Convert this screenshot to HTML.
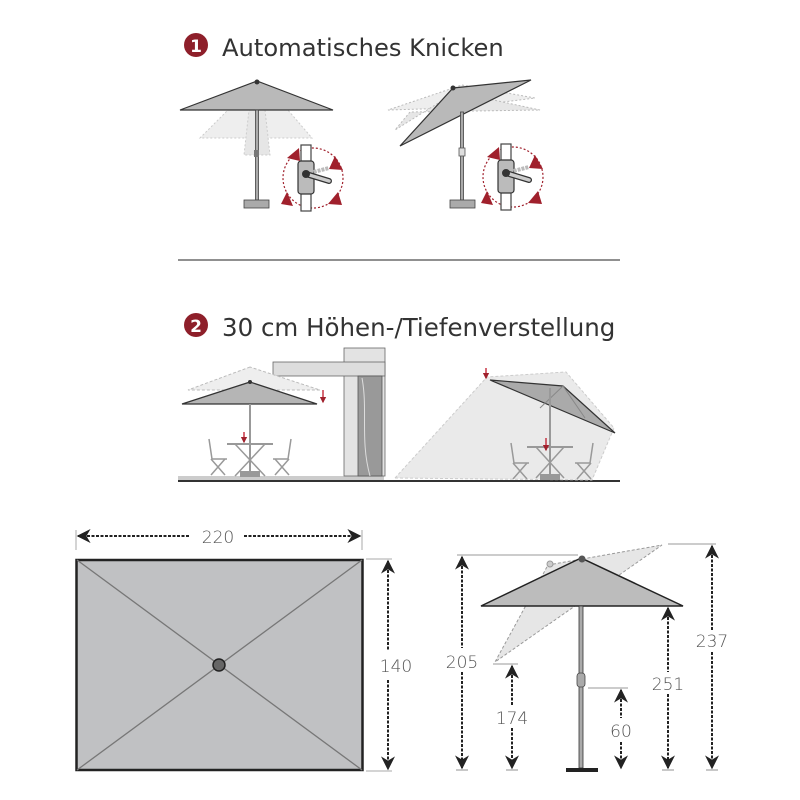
<!DOCTYPE html>
<html><head><meta charset="utf-8"><style>
html,body{margin:0;padding:0;background:#fff}
svg{display:block}
text{font-family:"DejaVu Sans","Liberation Sans",sans-serif;fill:#444}
.d{font-size:17px;fill:#555;font-weight:300}
</style></head><body>
<svg width="800" height="800" viewBox="0 0 800 800" xmlns="http://www.w3.org/2000/svg">
<defs>
<marker id="ar" viewBox="0 0 10 10" refX="9" refY="5" markerWidth="7" markerHeight="7" orient="auto-start-reverse"><path d="M0,0 L10,5 L0,10 L3,5 z" fill="#222"/></marker>
<marker id="rr" viewBox="0 0 10 10" refX="8" refY="5" markerWidth="5" markerHeight="5" orient="auto"><path d="M0,0 L10,5 L0,10 z" fill="#a0202c"/></marker>
<g id="dial">
<circle cx="0" cy="0" r="30" fill="none" stroke="#a0202c" stroke-width="1.2" stroke-dasharray="2,2"/>
<rect x="-12" y="-33" width="10" height="66" fill="#fff" stroke="#444" stroke-width="1.2"/>
<rect x="-15" y="-17" width="16" height="33" rx="3" fill="#bbb" stroke="#333" stroke-width="1.2"/>
<line x1="-7" y1="-4" x2="16" y2="-10" stroke="#bbb" stroke-width="4" stroke-dasharray="3,1"/>
<line x1="-7" y1="-4" x2="16" y2="3" stroke="#333" stroke-width="6" stroke-linecap="round"/>
<line x1="-7" y1="-4" x2="16" y2="3" stroke="#ccc" stroke-width="3.5" stroke-linecap="round"/>
<circle cx="-7" cy="-4" r="4" fill="#333"/>
<path d="M-26,-20 L-14,-30 L-13,-17 z" fill="#a0202c"/>
<path d="M22,-22 L30,-8 L16,-9 z" fill="#a0202c"/>
<path d="M-26,14 L-20,28 L-32,26 z" fill="#a0202c"/>
<path d="M15,26 L25,14 L29,27 z" fill="#a0202c"/>
</g>
<g id="chair" fill="none" stroke="#999" stroke-width="1.5">
<line x1="0" y1="0" x2="3" y2="20"/><line x1="3" y1="20" x2="18" y2="20"/><line x1="2" y1="20" x2="16" y2="36"/><line x1="16" y1="20" x2="2" y2="36"/>
</g>
</defs>

<!-- Titles -->
<circle cx="196" cy="45" r="12" fill="#8e1f2a"/>
<text x="196" y="52" text-anchor="middle" font-size="17" font-weight="bold" style="fill:#fff">1</text>
<text x="222" y="56" font-size="24.2" style="fill:#333">Automatisches Knicken</text>
<line x1="178" y1="260" x2="620" y2="260" stroke="#222" stroke-width="1"/>
<circle cx="196" cy="325" r="12" fill="#8e1f2a"/>
<text x="196" y="332" text-anchor="middle" font-size="17" font-weight="bold" style="fill:#fff">2</text>
<text x="222" y="336" font-size="24.5" style="fill:#333">30 cm Höhen-/Tiefenverstellung</text>

<!-- Section 1 left -->
<polygon points="229,109 287,109 312,138 200,138" fill="#eee" stroke="#ccc" stroke-dasharray="2,2"/>
<polygon points="249,110 265,110 270,155 244,155" fill="#e6e6e6" stroke="#ccc" stroke-dasharray="2,2"/>
<polygon points="257,81 180,110 333,110" fill="#b9b9b9" stroke="#333" stroke-width="1.2"/>
<circle cx="257" cy="82" r="2.5" fill="#333"/>
<rect x="255.5" y="110" width="3" height="90" fill="#aaa" stroke="#444" stroke-width="0.8"/>
<rect x="254" y="150" width="5" height="7" fill="#777"/>
<rect x="244" y="200" width="25" height="8" fill="#aaa" stroke="#444" stroke-width="0.8"/>
<use href="#dial" x="313" y="178"/>

<!-- Section 1 right -->
<polygon points="462,85 535,98 455,108 388,110" fill="#eee" stroke="#bbb" stroke-dasharray="2,2"/>
<polygon points="456,92 540,110 410,112 395,130" fill="#e6e6e6" stroke="#bbb" stroke-dasharray="2,2"/>
<polygon points="453,88 531,80 400,146" fill="#b9b9b9" stroke="#333" stroke-width="1.2"/>
<circle cx="453" cy="88" r="2.5" fill="#333"/>
<rect x="460.5" y="112" width="3" height="88" fill="#aaa" stroke="#444" stroke-width="0.8"/>
<rect x="459" y="148" width="6" height="8" fill="#ddd" stroke="#555" stroke-width="0.8"/>
<rect x="450" y="200" width="25" height="8" fill="#aaa" stroke="#444" stroke-width="0.8"/>
<use href="#dial" x="513" y="177"/>

<!-- Section 2 left -->
<rect x="178" y="476" width="206" height="4" fill="#ccc"/>
<rect x="344" y="348" width="41" height="128" fill="#e3e3e3" stroke="#666" stroke-width="0.8"/>
<rect x="273" y="362" width="112" height="14" fill="#ddd" stroke="#666" stroke-width="0.8"/>
<rect x="358" y="376" width="24" height="100" fill="#999" stroke="#555" stroke-width="0.8"/>
<path d="M362,378 C368,410 360,440 370,476" fill="none" stroke="#ddd" stroke-width="1"/>
<polygon points="250,367 188,390 320,390" fill="#eee" stroke="#bbb" stroke-dasharray="3,2"/>
<polygon points="250,382 182,404 317,404" fill="#b5b5b5" stroke="#333" stroke-width="1.2"/>
<circle cx="250" cy="382" r="2" fill="#333"/>
<line x1="250" y1="404" x2="250" y2="476" stroke="#999" stroke-width="2"/>
<line x1="227" y1="444" x2="273" y2="444" stroke="#999" stroke-width="2"/>
<line x1="235" y1="444" x2="265" y2="476" stroke="#999" stroke-width="1.5"/>
<line x1="265" y1="444" x2="235" y2="476" stroke="#999" stroke-width="1.5"/>
<use href="#chair" x="209" y="439"/>
<g transform="translate(291,439) scale(-1,1)"><use href="#chair"/></g>
<rect x="240" y="471" width="20" height="6" fill="#999"/>
<line x1="244" y1="432" x2="244" y2="442" stroke="#c0182a" stroke-width="1.3" marker-end="url(#rr)"/>
<line x1="323" y1="390" x2="323" y2="402" stroke="#c0182a" stroke-width="1.3" marker-end="url(#rr)"/>

<!-- Section 2 right -->
<line x1="178" y1="481" x2="620" y2="481" stroke="#333" stroke-width="2"/>
<polygon points="395,478 487,377 566,372 614,428 592,480" fill="#eaeaea" stroke="#ccc" stroke-dasharray="3,2"/>
<polygon points="490,380 563,386 615,433" fill="#aaa" stroke="#333" stroke-width="1.2"/>
<line x1="563" y1="386" x2="540" y2="408" stroke="#888"/>
<line x1="563" y1="386" x2="585" y2="418" stroke="#888"/>
<line x1="550" y1="388" x2="550" y2="478" stroke="#999" stroke-width="2"/>
<line x1="527" y1="447" x2="573" y2="447" stroke="#999" stroke-width="2"/>
<line x1="536" y1="447" x2="564" y2="478" stroke="#999" stroke-width="1.5"/>
<line x1="564" y1="447" x2="536" y2="478" stroke="#999" stroke-width="1.5"/>
<use href="#chair" x="511" y="443"/>
<g transform="translate(593,443) scale(-1,1)"><use href="#chair"/></g>
<rect x="540" y="474" width="20" height="6" fill="#999"/>
<line x1="546" y1="438" x2="546" y2="450" stroke="#c0182a" stroke-width="1.3" marker-end="url(#rr)"/>
<line x1="486" y1="368" x2="486" y2="378" stroke="#c0182a" stroke-width="1.3" marker-end="url(#rr)"/>

<!-- Bottom left plan -->
<rect x="76.5" y="560" width="286" height="210" fill="#c0c1c3" stroke="#222" stroke-width="2.5"/>
<line x1="77" y1="560" x2="362" y2="770" stroke="#777" stroke-width="1.3"/>
<line x1="362" y1="560" x2="77" y2="770" stroke="#777" stroke-width="1.3"/>
<circle cx="219" cy="665" r="6" fill="#666" stroke="#222" stroke-width="1.5"/>
<line x1="76" y1="530" x2="76" y2="550" stroke="#aaa"/>
<line x1="362" y1="530" x2="362" y2="550" stroke="#aaa"/>
<line x1="78" y1="536" x2="190" y2="536" stroke="#222" stroke-width="2" stroke-dasharray="3,1.5" marker-start="url(#ar)"/>
<line x1="244" y1="536" x2="360" y2="536" stroke="#222" stroke-width="2" stroke-dasharray="3,1.5" marker-end="url(#ar)"/>
<text x="218" y="543" text-anchor="middle" class="d">220</text>
<line x1="366" y1="559" x2="392" y2="559" stroke="#aaa"/>
<line x1="366" y1="771" x2="392" y2="771" stroke="#aaa"/>
<line x1="388" y1="561" x2="388" y2="650" stroke="#222" stroke-width="2" stroke-dasharray="3,1.5" marker-start="url(#ar)"/>
<line x1="388" y1="680" x2="388" y2="769" stroke="#222" stroke-width="2" stroke-dasharray="3,1.5" marker-end="url(#ar)"/>
<text x="396" y="672" text-anchor="middle" class="d">140</text>

<!-- Bottom right elevation -->
<polygon points="548,565 662,545 495,662" fill="#e6e6e6" stroke="#999" stroke-dasharray="3,2"/>
<circle cx="550" cy="564" r="3" fill="#ccc" stroke="#999"/>
<polygon points="581,558 481,606 683,606" fill="#bcbcbc" stroke="#222" stroke-width="1.5"/>
<circle cx="582" cy="559" r="3.5" fill="#555"/>
<rect x="579" y="606" width="4" height="162" fill="#aaa" stroke="#333" stroke-width="0.8"/>
<rect x="577" y="673" width="8" height="14" rx="3" fill="#aaa" stroke="#444" stroke-width="0.8"/>
<rect x="566" y="768" width="32" height="4" fill="#222"/>
<g stroke="#777" stroke-width="0.8">
<line x1="457" y1="555" x2="578" y2="555"/>
<line x1="493" y1="664" x2="518" y2="664"/>
<line x1="588" y1="688" x2="628" y2="688"/>
<line x1="668" y1="544" x2="716" y2="544"/>
<line x1="456" y1="770" x2="468" y2="770"/><line x1="506" y1="770" x2="518" y2="770"/><line x1="662" y1="770" x2="674" y2="770"/><line x1="706" y1="770" x2="718" y2="770"/>
</g>
<g stroke="#222" stroke-width="2" stroke-dasharray="3,1.5">
<line x1="462" y1="557" x2="462" y2="648" marker-start="url(#ar)"/>
<line x1="462" y1="672" x2="462" y2="768" marker-end="url(#ar)"/>
<line x1="512" y1="666" x2="512" y2="705" marker-start="url(#ar)"/>
<line x1="512" y1="728" x2="512" y2="768" marker-end="url(#ar)"/>
<line x1="621" y1="690" x2="621" y2="718" marker-start="url(#ar)"/>
<line x1="621" y1="742" x2="621" y2="768" marker-end="url(#ar)"/>
<line x1="668" y1="608" x2="668" y2="672" marker-start="url(#ar)"/>
<line x1="668" y1="694" x2="668" y2="768" marker-end="url(#ar)"/>
<line x1="712" y1="546" x2="712" y2="630" marker-start="url(#ar)"/>
<line x1="712" y1="652" x2="712" y2="768" marker-end="url(#ar)"/>
</g>
<text x="462" y="668" text-anchor="middle" class="d">205</text>
<text x="512" y="724" text-anchor="middle" class="d">174</text>
<text x="621" y="737" text-anchor="middle" class="d">60</text>
<text x="668" y="690" text-anchor="middle" class="d">251</text>
<text x="712" y="647" text-anchor="middle" class="d">237</text>
</svg>
</body></html>
